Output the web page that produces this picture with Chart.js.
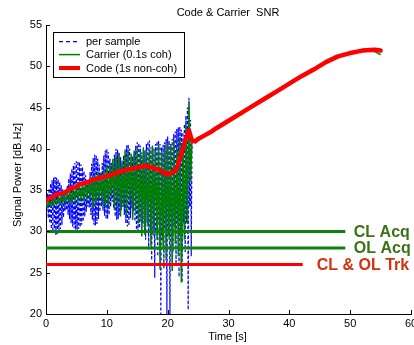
<!DOCTYPE html>
<html><head><meta charset="utf-8">
<script src="https://cdn.jsdelivr.net/npm/chart.js@4/dist/chart.umd.min.js"></script>
<style>html,body{margin:0;padding:0;background:#fff;overflow:hidden}#wrap{position:relative;width:414px;height:345px}</style>
</head><body><div id="wrap"><canvas id="c" width="414" height="345"></canvas></div>
<script>
const FONT = '"Liberation Sans", Arial, Helvetica, sans-serif';

// per-sample time grid (s), 8 samples per second until lock
const perSampleTimes = [
 0,0.125,0.25,0.375,0.5,0.625,0.75,0.875, 1,1.125,1.25,1.375,1.5,1.625,1.75,1.875,
 2,2.125,2.25,2.375,2.5,2.625,2.75,2.875, 3,3.125,3.25,3.375,3.5,3.625,3.75,3.875,
 4,4.125,4.25,4.375,4.5,4.625,4.75,4.875, 5,5.125,5.25,5.375,5.5,5.625,5.75,5.875,
 6,6.125,6.25,6.375,6.5,6.625,6.75,6.875, 7,7.125,7.25,7.375,7.5,7.625,7.75,7.875,
 8,8.125,8.25,8.375,8.5,8.625,8.75,8.875, 9,9.125,9.25,9.375,9.5,9.625,9.75,9.875,
 10,10.125,10.25,10.375,10.5,10.625,10.75,10.875, 11,11.125,11.25,11.375,11.5,11.625,11.75,11.875,
 12,12.125,12.25,12.375,12.5,12.625,12.75,12.875, 13,13.125,13.25,13.375,13.5,13.625,13.75,13.875,
 14,14.125,14.25,14.375,14.5,14.625,14.75,14.875, 15,15.125,15.25,15.375,15.5,15.625,15.75,15.875,
 16,16.125,16.25,16.375,16.5,16.625,16.75,16.875, 17,17.125,17.25,17.375,17.5,17.625,17.75,17.875,
 18,18.125,18.25,18.375,18.5,18.625,18.75,18.875, 19,19.125,19.25,19.375,19.5,19.625,19.75,19.875,
 20,20.125,20.25,20.375,20.5,20.625,20.75,20.875, 21,21.125,21.25,21.375,21.5,21.625,21.75,21.875,
 22,22.125,22.25,22.375,22.5,22.625,22.75,22.875, 23,23.125,23.25,23.375,23.5,23.625,23.75,23.875,
 24
];
const perSampleSnr = [
 34.0,32.8,34.6,31.6,35.2,31.0,35.8,30.3, 36.2,30.0,36.5,29.7,36.6,29.5,36.5,29.6,
 36.3,29.8,36.0,30.3,35.6,30.8,35.1,31.7, 34.6,32.5,34.9,32.6,35.6,32.0,36.4,31.5,
 37.0,31.0,37.6,30.6,38.0,30.4,38.3,30.2, 38.5,30.2,38.5,30.3,38.4,30.5,38.1,30.8,
 37.8,31.2,37.3,31.8,36.8,32.4,36.3,33.0, 36.0,32.9,37.2,32.0,38.2,31.4,38.9,30.8,
 39.3,30.7,39.2,30.9,38.8,31.5,38.1,32.4, 37.2,33.0,38.3,32.5,39.2,31.9,39.8,31.5,
 40.0,31.5,39.6,32.0,38.8,33.0,38.3,33.6, 38.2,32.8,39.3,31.8,40.0,31.4,39.9,31.5,
 39.6,32.0,39.0,32.6,38.2,33.0,39.2,32.0, 40.0,31.0,40.4,30.6,40.5,30.7,40.0,31.6,
 39.0,32.8,39.1,32.4,39.6,31.2,40.4,30.2, 40.8,30.0,40.7,30.4,40.4,31.2,39.6,31.0,
 38.8,30.5,39.8,29.0,40.6,31.0,40.9,27.8, 41.0,30.0,40.2,26.5,39.6,29.5,40.1,24.4,
 40.6,30.0,40.9,27.0,41.0,31.0,40.6,20.0, 40.2,29.0,40.5,25.5,40.8,30.0,41.2,20.0,
 41.5,29.5,41.0,20.0,40.6,31.0,41.2,27.5, 41.8,30.5,42.1,26.0,42.4,31.0,42.6,24.5,
 42.7,30.0,42.3,23.8,42.0,31.0,43.0,27.5, 44.0,31.0,45.0,20.5,46.2,33.0,43.5,27.0,
 41.5
];
// carrier (0.1 s coherent) time grid (s)
const carrierTimes = [
 0,0.25,0.5,0.75, 1,1.25,1.5,1.75, 2,2.25,2.5,2.75, 3,3.25,3.5,3.75,
 4,4.25,4.5,4.75, 5,5.25,5.5,5.75, 6,6.25,6.5,6.75, 7,7.25,7.5,7.75,
 8,8.25,8.5,8.75, 9,9.25,9.5,9.75, 10,10.25,10.5,10.75, 11,11.25,11.5,11.75,
 12,12.25,12.5,12.75, 13,13.25,13.5,13.75, 14,14.25,14.5,14.75, 15,15.25,15.5,15.75,
 16,16.25,16.5,16.75, 17,17.25,17.5,17.75, 18,18.25,18.5,18.75, 19,19.25,19.5,19.75,
 20,20.25,20.5,20.75, 21,21.25,21.5,21.75, 22,22.25,22.5,22.75, 23,23.25,23.5,23.75, 24
];
const carrierSnr = [
 33.4,33.0,33.6,33.1, 33.8,33.2,34.0,33.3, 34.1,33.4,34.3,33.5, 34.4,33.6,34.6,33.7,
 34.9,33.6,35.1,33.9, 35.3,33.8,35.5,34.0, 35.7,33.6,35.8,34.2, 36.2,33.9,36.6,32.8,
 36.8,33.4,37.2,34.0, 36.9,33.2,37.5,33.0, 38.0,33.0,38.2,34.2, 38.8,32.6,39.2,33.4,
 39.5,31.8,38.6,33.0, 39.6,32.0,39.8,33.6, 39.4,31.4,39.8,32.4, 40.0,31.0,39.6,29.4,
 40.2,29.6,39.8,30.6, 40.0,28.2,40.4,30.0, 39.8,29.0,40.6,25.4, 39.6,28.0,40.2,26.5,
 40.8,29.0,40.4,25.2, 41.0,28.5,40.0,27.0, 41.4,23.8,40.8,29.0, 43.0,31.0,45.6,36.0, 41.2
];
// after lock (t > 24 s), per-sample and carrier follow the code estimate
const tailTimes = [24.5,25,26,28,30,32,34,36,38,40,42,44,46,48,50,52,54,55];
const perSampleTail = [40.9,41.2,41.6,42.5,43.4,44.3,45.2,46.1,47.0,47.9,48.8,49.6,50.5,51.2,51.6,51.9,52.1,52.0];
const carrierTail   = [40.9,41.2,41.6,42.5,43.4,44.3,45.2,46.1,47.0,47.9,48.8,49.6,50.5,51.2,51.6,51.9,51.8,51.4];

// code (1 s non-coherent)
const codeTimes = [0,0.5,1,1.5,2,2.5,3,3.5,4,4.5,5,5.5,6,6.5,7,7.5,8,8.5,9,9.5,
 10,10.5,11,11.5,12,12.5,13,13.5,14,14.5,15,15.5,16,16.5,17,17.5,18,18.5,19,19.5,
 20,20.5,21,21.5,22,22.5,23,23.5,24,24.5,25,26,27,28,30,32,34,36,38,40,42,44,46,48,50,52,54,55];
const codeSnr = [33.7,34.0,34.1,34.4,34.5,34.6,34.7,34.9,35.2,35.3,35.4,35.7,35.8,35.9,36.0,36.2,36.3,36.4,36.5,36.6,
 36.7,36.8,36.9,37.1,37.2,37.3,37.4,37.5,37.6,37.7,37.7,37.8,37.9,37.9,37.9,37.7,37.6,37.5,37.3,37.0,
 36.9,37.1,37.2,37.6,38.8,40.0,41.3,42.2,41.0,40.9,41.2,41.6,42.0,42.5,43.4,44.3,45.2,46.1,47.0,47.9,48.8,49.6,50.5,51.2,51.6,51.9,52.0,51.9];

// thresholds
const thresholdLevels = [30, 28, 26];
const thresholdEnds = [49.2, 49.2, 42.2];
const thresholdLabels = ['CL Acq', 'OL Acq', 'CL & OL Trk'];
const thresholdLabelStarts = [50.6, 50.6, 44.5];

const legendLabels = ['per sample', 'Carrier (0.1s coh)', 'Code (1s non-coh)'];
const xTicksRange = [0, 60, 10];
const yTicksRange = [20, 55, 5];

const thLineColors = ['#0c820c', '#0c820c', '#ff0000'];
const thTextColors = ['#3b7215', '#3b7215', '#d2330f'];

const pts = (xs, ys) => xs.map((x, i) => ({x: x, y: ys[i]}));

const datasets = [
  {label: legendLabels[0], data: pts(perSampleTimes, perSampleSnr).concat(pts(tailTimes, perSampleTail)),
   borderColor: '#0000ff', borderWidth: 1.2, borderDash: [3, 2], order: 10},
  {label: legendLabels[1], data: pts(carrierTimes, carrierSnr).concat(pts(tailTimes, carrierTail)),
   borderColor: '#008000', borderWidth: 1.5, order: 9},
  {label: legendLabels[2], data: pts(codeTimes, codeSnr),
   borderColor: '#ff0000', borderWidth: 4.5, borderJoinStyle: 'round', borderCapStyle: 'round', order: 8}
];
thresholdLevels.forEach((lvl, i) => {
  datasets.push({label: thresholdLabels[i], data: [{x: 0, y: lvl}, {x: thresholdEnds[i], y: lvl}],
    borderColor: thLineColors[i], borderWidth: 3, order: 1});
});

const deco = {
  id: 'deco',
  afterDatasetsDraw(chart) {
    const {ctx, chartArea: a} = chart;
    const x = chart.scales.x, y = chart.scales.y;
    ctx.save();
    // threshold labels
    ctx.font = 'bold 16px ' + FONT;
    ctx.textBaseline = 'middle'; ctx.textAlign = 'left';
    thresholdLabels.forEach((t, i) => {
      ctx.fillStyle = thTextColors[i];
      ctx.fillText(t, x.getPixelForValue(thresholdLabelStarts[i]), y.getPixelForValue(thresholdLevels[i]) + 1);
    });
    // inward ticks
    ctx.strokeStyle = '#000'; ctx.lineWidth = 1; ctx.setLineDash([]);
    y.ticks.forEach(tk => {
      const py = Math.round(y.getPixelForValue(tk.value)) + 0.5;
      ctx.beginPath(); ctx.moveTo(a.left, py); ctx.lineTo(a.left + 4, py); ctx.stroke();
    });
    x.ticks.forEach(tk => {
      const px = Math.round(x.getPixelForValue(tk.value)) + 0.5;
      ctx.beginPath(); ctx.moveTo(px, a.bottom); ctx.lineTo(px, a.bottom - 4); ctx.stroke();
    });
    // legend
    const bx = 53.5, by = 32.5, bw = 131, bh = 45;
    ctx.fillStyle = '#fff'; ctx.fillRect(bx, by, bw, bh);
    ctx.strokeStyle = '#000'; ctx.lineWidth = 1; ctx.strokeRect(bx, by, bw, bh);
    const rows = [41.7, 54.6, 68];
    ctx.font = '11px ' + FONT; ctx.textBaseline = 'middle'; ctx.textAlign = 'left';
    datasets.slice(0, 3).forEach((d, i) => {
      ctx.save();
      ctx.strokeStyle = d.borderColor; ctx.lineWidth = Math.min(d.borderWidth, 4);
      ctx.setLineDash(d.borderDash ? [4, 3] : []);
      ctx.beginPath(); ctx.moveTo(59, rows[i]); ctx.lineTo(80, rows[i]); ctx.stroke();
      ctx.restore();
      ctx.fillStyle = '#000';
      ctx.fillText(d.label, 86, rows[i] + 0.5);
    });
    // titles
    ctx.fillStyle = '#000'; ctx.textAlign = 'center'; ctx.textBaseline = 'middle';
    ctx.font = '11px ' + FONT;
    ctx.fillText('Code & Carrier  SNR', 228, 12.5);
    ctx.fillText('Time [s]', 227.5, 337);
    ctx.translate(17.5, 175); ctx.rotate(-Math.PI / 2);
    ctx.fillText('Signal Power [dB.Hz]', 0, 0);
    ctx.restore();
  }
};

new Chart(document.getElementById('c'), {
  type: 'line',
  data: {datasets: datasets},
  options: {
    responsive: false, animation: false,
    layout: {padding: {top: 25, right: 3, left: 0, bottom: 0}},
    plugins: {legend: {display: false}, tooltip: {enabled: false}, title: {display: false}},
    elements: {point: {radius: 0}, line: {tension: 0, fill: false}},
    scales: {
      x: {type: 'linear', min: xTicksRange[0], max: xTicksRange[1],
        ticks: {stepSize: xTicksRange[2], color: '#000', font: {family: FONT, size: 11}, padding: 3, maxRotation: 0, autoSkip: false},
        grid: {display: true, drawOnChartArea: false, drawTicks: false},
        border: {display: true, color: '#000', width: 1},
        afterFit(s) { s.height = 31; s.paddingLeft = 0; s.paddingRight = 0; }},
      y: {type: 'linear', min: yTicksRange[0], max: yTicksRange[1],
        ticks: {stepSize: yTicksRange[2], color: '#000', font: {family: FONT, size: 11}, padding: 4},
        grid: {display: true, drawOnChartArea: false, drawTicks: false},
        border: {display: true, color: '#000', width: 1},
        afterFit(s) { s.width = 46; s.paddingTop = 0; s.paddingBottom = 0; }}
    }
  },
  plugins: [deco]
});
</script></body></html>
